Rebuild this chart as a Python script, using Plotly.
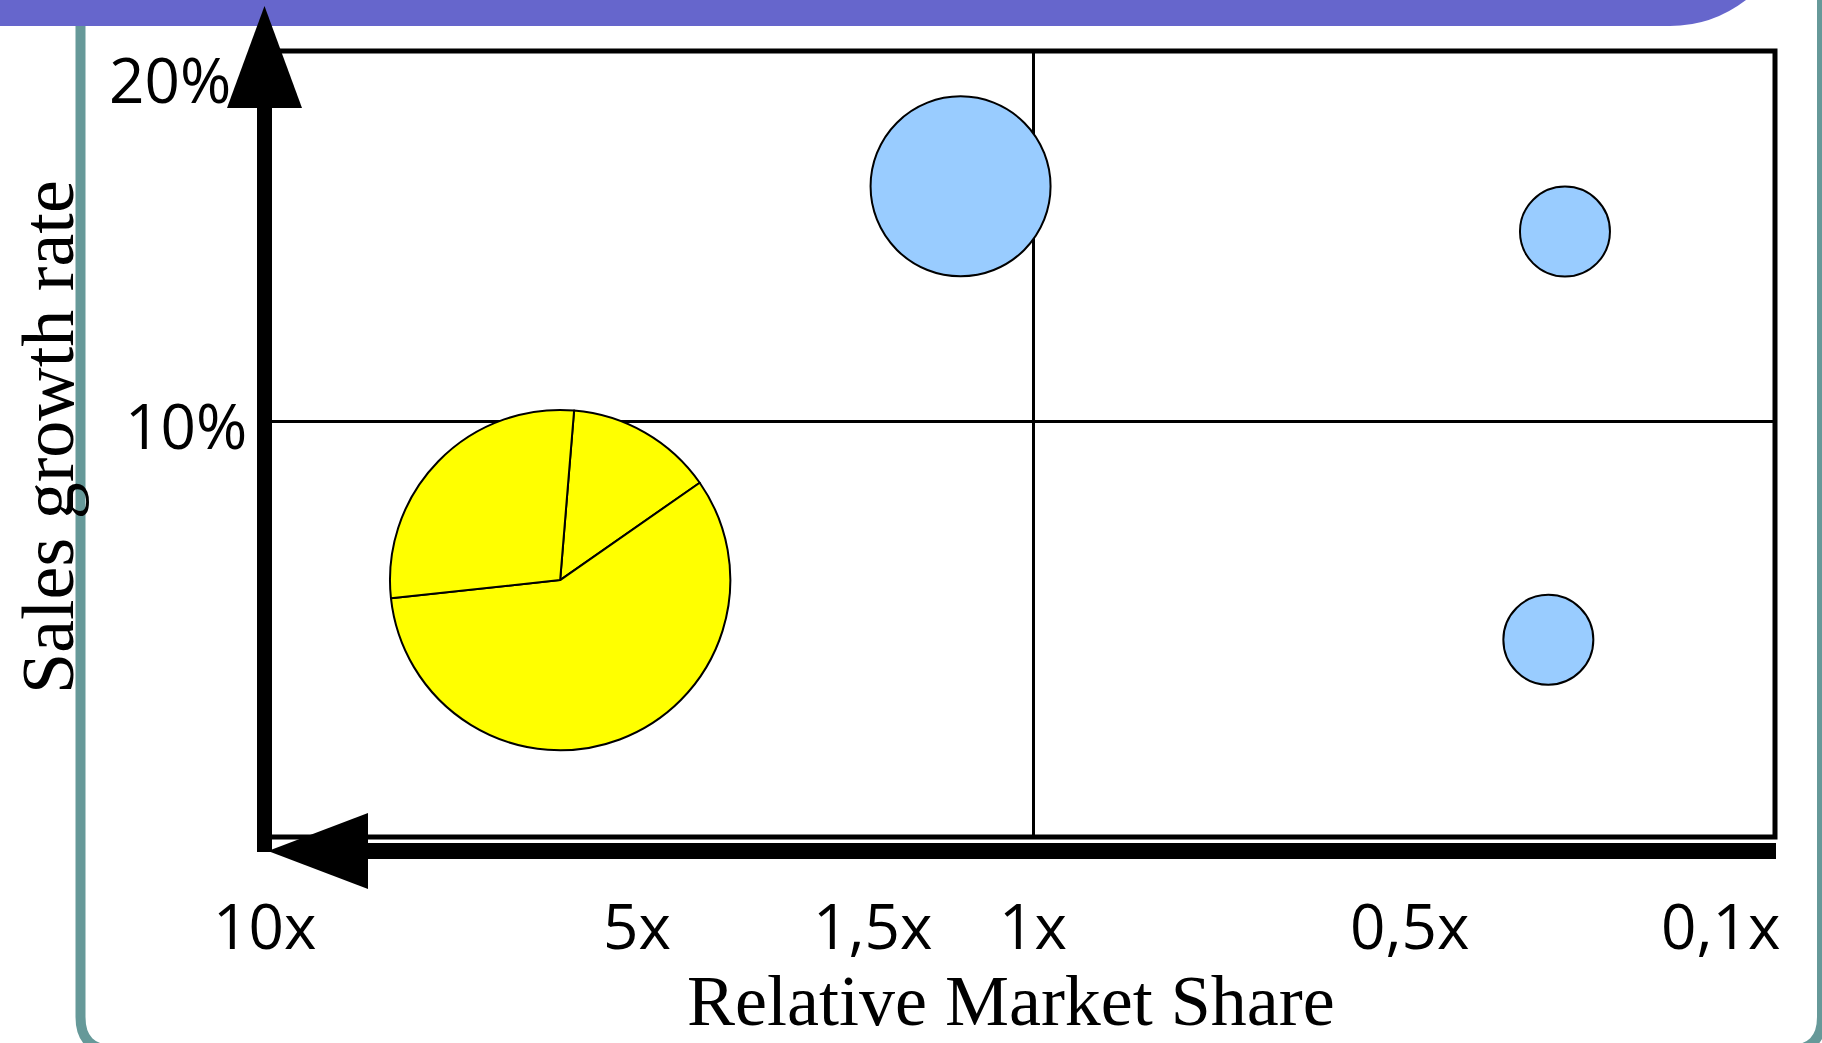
import math
import plotly.graph_objects as go

# ---- canvas / plot-area geometry (pixels) ----
FIG_W, FIG_H = 1822, 1043
M_L, M_R, M_T, M_B = 264, 47, 51, 206
PLOT_W = FIG_W - M_L - M_R
PLOT_H = FIG_H - M_T - M_B

# horizontal axis: position along the relative-market-share scale (10x at the left edge)
X_RANGE = [0, 100]
# vertical axis: sales growth rate, %
Y_RANGE = [-1.2, 20]

# ---- scales ----
share_tick_pos = [0.0, 24.7, 40.3, 50.9, 75.8, 96.4]
share_tick_text = ["10x", "5x", "1,5x", "1x", "0,5x", "0,1x"]
growth_tick_vals = [20, 10]
growth_tick_text = ["20%", "10%"]

# ---- business units drawn as bubbles ----
unit_share = [46.1, 86.1, 85.0]
unit_growth = [16.35, 15.13, 4.12]
unit_sales = [4, 1, 1]

# ---- business unit drawn as a pie of its product lines ----
pie_share = 19.6
pie_growth = 5.73
pie_sales = 14.3
pie_parts = [14, 58, 28]

BUBBLE_R1 = 45.0          # bubble radius (px) for one unit of sales
SIZEREF = 1 / (2 * BUBBLE_R1 ** 2)

BLUE = "#99CCFF"
YELLOW = "#FFFF00"
TEAL = "#669999"
PURPLE = "#6666CC"
TICK_FONT = dict(family="Open Sans, Lato, sans-serif", size=62, color="black")
TITLE_FONT = dict(family="Liberation Serif, Times New Roman, serif", size=74, color="black")


def px(x):
    """pixel column -> paper x"""
    return (x - M_L) / PLOT_W


def py(y):
    """pixel row -> paper y"""
    return (FIG_H - M_B - y) / PLOT_H


def xdata_to_paper(v):
    return (v - X_RANGE[0]) / (X_RANGE[1] - X_RANGE[0])


def ydata_to_paper(v):
    return (v - Y_RANGE[0]) / (Y_RANGE[1] - Y_RANGE[0])


def path(points, close=True):
    s = "M " + " L ".join(f"{px(a):.5f},{py(b):.5f}" for a, b in points)
    return s + (" Z" if close else "")


fig = go.Figure()

fig.add_trace(go.Scatter(
    x=unit_share, y=unit_growth, mode="markers",
    marker=dict(size=unit_sales, sizemode="area", sizeref=SIZEREF,
                color=BLUE, line=dict(color="black", width=2), opacity=1),
    hoverinfo="skip", showlegend=False,
))

# pie placed at its bubble position, radius on the same area scale as the bubbles
pie_r = BUBBLE_R1 * math.sqrt(pie_sales)
cx, cy = xdata_to_paper(pie_share), ydata_to_paper(pie_growth)
fig.add_trace(go.Pie(
    values=pie_parts, sort=False, direction="clockwise", rotation=4.7,
    marker=dict(colors=[YELLOW] * len(pie_parts), line=dict(color="black", width=2)),
    textinfo="none", hoverinfo="skip", showlegend=False,
    domain=dict(x=[cx - pie_r / PLOT_W, cx + pie_r / PLOT_W],
                y=[cy - pie_r / PLOT_H, cy + pie_r / PLOT_H]),
))

shapes = []
# slide frame
shapes.append(dict(
    type="path", xref="paper", yref="paper", layer="below",
    path=(f"M {px(80.5)},{py(-5)} L {px(80.5)},{py(1017)} "
          f"Q {px(80.5)},{py(1050)} {px(113.5)},{py(1050)} "
          f"L {px(1789)},{py(1050)} Q {px(1822)},{py(1050)} {px(1822)},{py(1017)} "
          f"L {px(1822)},{py(-5)}"),
    line=dict(color=TEAL, width=10), fillcolor="rgba(0,0,0,0)",
))
# title band
shapes.append(dict(
    type="path", xref="paper", yref="paper", layer="below",
    path=(f"M {px(-5)},{py(-5)} L {px(-5)},{py(26)} L {px(1670)},{py(26)} "
          f"Q {px(1712)},{py(26)} {px(1746)},{py(0)} L {px(1746)},{py(-5)} Z"),
    fillcolor=PURPLE, line=dict(width=0),
))
# matrix frame
shapes.append(dict(type="rect", xref="paper", yref="paper", x0=0, x1=1, y0=0, y1=1,
                   line=dict(color="black", width=5), layer="above"))
# growth axis arrow
shapes.append(dict(type="rect", xref="paper", yref="paper", layer="above",
                   x0=px(257), x1=px(272), y0=py(852), y1=py(106),
                   fillcolor="black", line=dict(width=0)))
shapes.append(dict(type="path", xref="paper", yref="paper", layer="above",
                   path=path([(264.5, 6), (227, 108), (302, 108)]),
                   fillcolor="black", line=dict(width=0)))
# share axis arrow
shapes.append(dict(type="rect", xref="paper", yref="paper", layer="above",
                   x0=px(366), x1=px(1776), y0=py(859), y1=py(843),
                   fillcolor="black", line=dict(width=0)))
shapes.append(dict(type="path", xref="paper", yref="paper", layer="above",
                   path=path([(268, 851), (368, 813), (368, 889)]),
                   fillcolor="black", line=dict(width=0)))

annotations = []
for pos, txt in zip(share_tick_pos, share_tick_text):
    annotations.append(dict(x=pos, xref="x", y=0, yref="paper", yshift=-88,
                            text=txt, showarrow=False, font=TICK_FONT,
                            xanchor="center", yanchor="middle"))
label_right = {20: 233, 10: 249}
label_shift = {20: -28, 10: -3}
for val, txt in zip(growth_tick_vals, growth_tick_text):
    annotations.append(dict(x=px(label_right[val]), xref="paper", y=val, yref="y",
                            yshift=label_shift[val], text=txt, showarrow=False,
                            font=TICK_FONT, xanchor="right", yanchor="middle"))
annotations.append(dict(x=px(48), xref="paper", y=py(437), yref="paper",
                        text="Sales growth rate", textangle=-90, showarrow=False,
                        font=TITLE_FONT, xanchor="center", yanchor="middle"))
annotations.append(dict(x=px(1011), xref="paper", y=py(1001), yref="paper",
                        text="Relative Market Share", showarrow=False,
                        font=dict(TITLE_FONT, size=72),
                        xanchor="center", yanchor="middle"))

fig.update_layout(
    width=FIG_W, height=FIG_H,
    margin=dict(l=M_L, r=M_R, t=M_T, b=M_B, pad=0, autoexpand=False),
    paper_bgcolor="white", plot_bgcolor="white",
    shapes=shapes, annotations=annotations, showlegend=False,
    xaxis=dict(range=X_RANGE, tickvals=[share_tick_pos[3]], showticklabels=False,
               ticks="", showgrid=True, gridcolor="black", gridwidth=2.5,
               zeroline=False, showline=False, fixedrange=True),
    yaxis=dict(range=Y_RANGE, tickvals=[growth_tick_vals[1]], showticklabels=False,
               ticks="", showgrid=True, gridcolor="black", gridwidth=2.5,
               zeroline=False, showline=False, fixedrange=True),
)

fig.write_html("out.html", config={"displayModeBar": False})
